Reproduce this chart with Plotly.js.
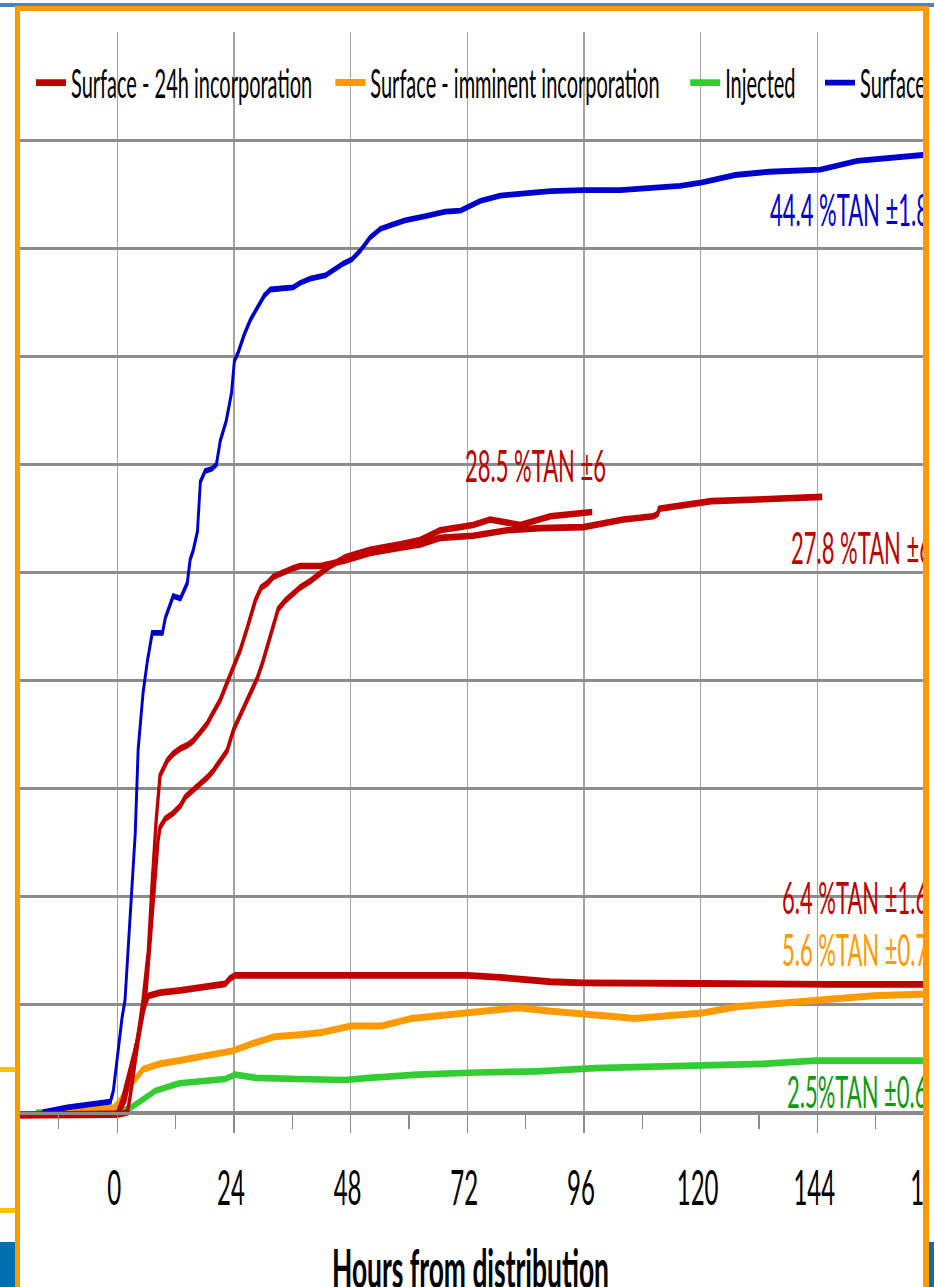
<!DOCTYPE html>
<html>
<head>
<meta charset="utf-8">
<script src="https://cdn.plot.ly/plotly-3.0.1.min.js"></script>
<style>
  html, body { margin:0; padding:0; background:#ffffff; overflow:hidden; }
  #wrap { position:absolute; left:0; top:0; width:934px; height:643.5px; transform:scaleY(2); transform-origin:0 0; }
  #chart { width:934px; height:643.5px; }
  .deco { position:absolute; }
</style>
</head>
<body>
<div id="wrap"><div id="chart"></div></div>
<div class="deco" style="left:0;top:3px;width:934px;height:4px;background:#4F81BD"></div>
<div class="deco" style="left:15px;top:6px;width:914px;height:5px;background:#FF9900"></div>
<div class="deco" style="left:15px;top:6px;width:5px;height:1281px;background:#FF9900"></div>
<div class="deco" style="left:923px;top:6px;width:6px;height:1281px;background:#FF9900"></div>
<div class="deco" style="left:929px;top:11px;width:5px;height:1231px;background:#ffffff"></div>
<div class="deco" style="left:0;top:1067px;width:15px;height:5px;background:#FFC000"></div>
<div class="deco" style="left:0;top:1208px;width:15px;height:5px;background:#FFC000"></div>
<div class="deco" style="left:0;top:1242px;width:15px;height:45px;background:#0070B0"></div>
<div class="deco" style="left:929px;top:1242px;width:5px;height:45px;background:#0070B0"></div>
<script>
// ---- data (hours from distribution, cumulative emission in %TAN) ----
const hoursBlue = [-15.4,-10.3,-4.1,-1.4,-0.8,-0.2,0.4,1.0,1.6,2.7,3.7,4.3,5.3,6.2,7.2,9.3,9.9,11.5,13.0,14.4,15.0,15.6,16.5,17.1,18.1,19.5,20.4,21.2,22.4,23.5,24.1,24.9,26.1,27.4,28.6,30.2,31.5,33.5,36.2,37.6,39.7,42.8,44.4,46.5,48.3,50.0,52.0,54.1,56.6,59.2,63.4,67.5,70.6,71.8,74.7,78.8,82.9,89.1,95.9,103.5,109.9,115.8,120.1,127.1,134.1,144.6,152.2,159.0,166.8];
const tanBlue   = [0,0.23,0.42,0.5,1.0,2.1,3.2,4.4,5.2,9.0,12.9,16.8,19.4,20.9,22.2,22.2,22.9,23.9,23.8,24.5,25.6,26.0,26.9,29.2,29.7,29.8,30.0,31.1,32.0,33.3,34.8,35.2,36.0,36.7,37.2,37.8,38.1,38.15,38.2,38.4,38.6,38.75,39.0,39.3,39.5,39.9,40.5,40.9,41.1,41.3,41.5,41.7,41.75,41.9,42.2,42.45,42.55,42.65,42.7,42.7,42.8,42.9,43.05,43.4,43.55,43.65,44.05,44.2,44.35];

const hoursRedA = [-20,-11.7,-3.5,0,1.0,2.3,4.1,5.3,6.4,7.2,8.0,8.8,9.5,10.3,11.5,13.0,14.4,15.6,17.1,18.5,19.7,21.2,22.6,23.9,25.3,26.7,28.4,29.6,30.9,32.1,33.5,36.2,37.6,41.8,46.9,52.0,58.2,62.3,66.4,73.2,80.2,87.0,95.9,104.1,110.3,111.1,111.5,120.1,122.2,134.1,145.0];
const tanRedA   = [-0.12,-0.1,-0.1,-0.05,0.55,1.7,3.3,5.2,7.5,10.7,13.5,15.6,15.9,16.3,16.6,16.85,17.0,17.2,17.6,18.0,18.5,19.1,19.9,20.6,21.4,22.4,23.7,24.3,24.5,24.8,24.95,25.2,25.3,25.3,25.55,25.9,26.15,26.3,26.6,26.7,26.95,27.05,27.1,27.45,27.6,27.7,27.95,28.2,28.3,28.4,28.5];

const hoursRedB = [-20,0,2.1,2.7,4.3,5.8,6.8,7.8,8.4,8.8,9.9,11.5,13.0,14.0,15.6,17.1,18.5,19.7,21.2,22.6,23.9,25.3,27.4,28.8,30.0,31.5,33.1,34.6,36.2,37.6,39.7,41.8,43.8,46.9,52.0,58.2,62.3,66.4,73.2,76.7,79.8,82.9,89.1,93.8,97.7];
const tanRedB   = [-0.12,-0.1,0,0.8,3.3,5.2,8.0,10.7,12.6,13.2,13.6,13.85,14.2,14.6,14.9,15.2,15.5,15.8,16.3,16.75,17.7,18.4,19.4,20.1,20.9,22.1,23.3,23.7,24.0,24.3,24.6,25.0,25.3,25.7,26.05,26.3,26.5,26.95,27.2,27.45,27.3,27.2,27.6,27.7,27.8];

const hoursRedC = [-20,-11.7,0,1.6,3.7,5.3,6.4,8.8,13.0,17.1,20.6,22.2,23.2,24.3,37.6,47.9,58.2,72.0,78.8,89.1,95.9,103.5,120.0,146.7,168.0];
const tanRedC   = [-0.12,-0.1,-0.1,0.55,2.9,4.7,5.4,5.55,5.65,5.8,5.9,5.95,6.2,6.35,6.35,6.35,6.3,6.35,6.25,6.05,6.0,5.97,5.97,5.93,5.93];

const hoursOrange = [-15.4,-5.6,-0.8,0.6,2.7,5.3,8.8,12.8,18.7,23.7,28.0,32.3,37.6,42.0,48.1,54.3,60.5,66.4,71.4,77.6,82.5,88.7,95.9,101.4,106.4,113.1,120.3,127.7,135.2,144.2,148.7,155.5,168.0];
const tanOrange   = [0,0.1,0.2,0.55,1.25,2.0,2.25,2.4,2.65,2.85,3.2,3.5,3.6,3.7,4.0,4.0,4.35,4.5,4.6,4.8,4.85,4.7,4.6,4.45,4.35,4.5,4.6,4.9,5.05,5.15,5.3,5.4,5.5];

const hoursGreen = [-16.7,-3.5,-0.2,2.9,5.8,7.8,12.8,18.7,22.2,24.3,28.6,37.2,46.9,51.8,61.7,73.9,86.2,98.3,110.7,122.8,129.0,132.7,143.6,168.0];
const tanGreen   = [0,0,0,0.23,0.7,1.0,1.35,1.5,1.55,1.75,1.6,1.55,1.5,1.6,1.75,1.85,1.9,2.05,2.1,2.2,2.2,2.25,2.4,2.4];

const seriesNames = ["Surface - 24h incorporation", "Surface - imminent incorporation", "Injected", "Surface"];
const tickHours = [0, 24, 48, 72, 96, 120, 144, 168];
const tickLabels = ["0", "24", "48", "72", "96", "120", "144", "168"];
const endLabels = ["44.4 %TAN \u00b11.8", "28.5 %TAN \u00b16", "27.8 %TAN \u00b16", "6.4 %TAN \u00b11.6", "5.6 %TAN \u00b10.7", "2.5%TAN \u00b10.6"];
const axisTitle = "Hours from distribution";

// ---- styles ----
const RED = '#C00000', ORANGE = '#FF9900', GREEN = '#33CC33', BLUE = '#0000CC';
const FONT = 'Lato, Carlito, "Open Sans", sans-serif';

const traces = [
  {x: hoursGreen, y: tanGreen, name: seriesNames[2], mode: 'lines', line: {color: GREEN, width: 3.3}, legend: 'legend3'},
  {x: hoursOrange, y: tanOrange, name: seriesNames[1], mode: 'lines', line: {color: ORANGE, width: 3.5}, legend: 'legend2'},
  {x: hoursBlue, y: tanBlue, name: seriesNames[3], mode: 'lines', line: {color: BLUE, width: 2.9}, legend: 'legend4'},
  {x: hoursRedA, y: tanRedA, name: 'Surface A', mode: 'lines', line: {color: RED, width: 3.3}, showlegend: false},
  {x: hoursRedB, y: tanRedB, name: 'Surface B', mode: 'lines', line: {color: RED, width: 3.3}, showlegend: false},
  {x: hoursRedC, y: tanRedC, name: seriesNames[0], mode: 'lines', line: {color: RED, width: 3.4}, legend: 'legend'}
];

function leg(xp) {
  return {orientation: 'h', x: xp, xanchor: 'left', y: 0.9535, yanchor: 'middle',
          bgcolor: 'rgba(0,0,0,0)', borderwidth: 0, itemwidth: 30,
          font: {family: FONT, size: 20, color: '#000'}};
}

function ann(text, x, y, color) {
  return {text: text, x: x, y: y, xref: 'x', yref: 'y', xanchor: 'left', yanchor: 'middle',
          showarrow: false, font: {family: FONT, size: 22, color: color}};
}

const layout = {
  width: 934, height: 643.5,
  margin: {l: 20, r: 0, t: 16, b: 83.72, pad: 0},
  paper_bgcolor: '#ffffff', plot_bgcolor: '#ffffff',
  showlegend: true,
  legend: leg(0.01204), legend2: leg(0.33954), legend3: leg(0.72776), legend4: leg(0.87527),
  xaxis: {
    range: [-20, 168], anchor: 'free', position: 0.35 / 50.37,
    tickvals: tickHours, ticktext: tickLabels,
    showgrid: true, gridcolor: '#a3a3a3', gridwidth: 1.2,
    showline: true, linecolor: '#8a8a8a', linewidth: 1.3,
    zeroline: false,
    ticks: 'outside', ticklen: 9, tickwidth: 1.2, tickcolor: '#8a8a8a',
    minor: {dtick: 12, tick0: 0, ticks: 'outside', ticklen: 7, tickwidth: 1.2, tickcolor: '#8a8a8a', showgrid: false},
    ticklabelstandoff: 7, ticklabelshift: -3, ticklabeloverflow: 'allow',
    tickfont: {family: FONT, size: 24, color: '#000'},
    automargin: false, fixedrange: true
  },
  yaxis: {
    range: [-0.35, 50.02], dtick: 5, tick0: 0,
    showgrid: true, gridcolor: '#8c8c8c', gridwidth: 1.1,
    showticklabels: false, ticks: '', zeroline: false, showline: false,
    automargin: false, fixedrange: true
  },
  shapes: [
    {type: 'rect', xref: 'paper', yref: 'y', x0: 0, x1: 1, y0: 45.7, y1: 49.4,
     fillcolor: '#ffffff', line: {width: 0}, layer: 'between'}
  ],
  annotations: [
    ann(endLabels[0], 133.9, 41.8, BLUE),
    ann(endLabels[1], 71.2, 29.95, RED),
    ann(endLabels[2], 138.2, 26.2, RED),
    ann(endLabels[3], 136.3, 9.95, RED),
    ann(endLabels[4], 136.3, 7.55, ORANGE),
    ann(endLabels[5], 137.3, 1.0, '#119A11'),
    {text: axisTitle, x: 72.6, xref: 'x', y: -0.1025, yref: 'paper', xanchor: 'center', yanchor: 'top',
     showarrow: false, font: {family: FONT, size: 26.4, color: '#000', weight: 700}}
  ]
};

Plotly.newPlot('chart', traces, layout, {staticPlot: true, displayModeBar: false});
</script>
</body>
</html>
